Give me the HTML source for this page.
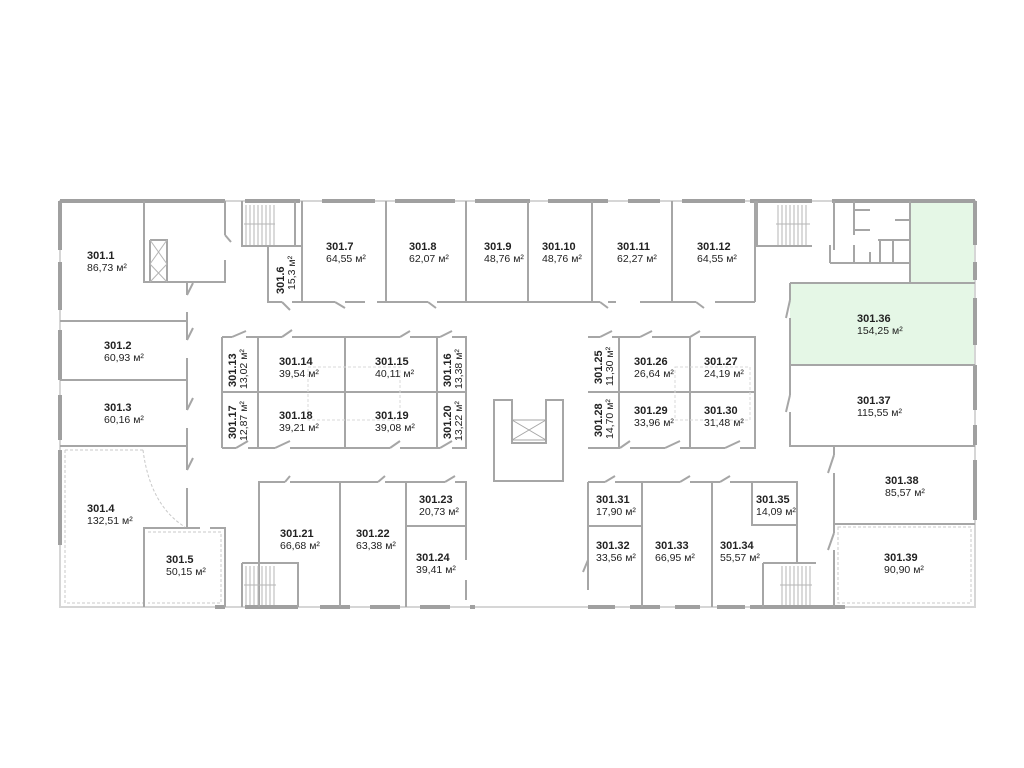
<!DOCTYPE html>
<html><head><meta charset="utf-8"><style>
html,body{margin:0;padding:0;background:#fff;width:1024px;height:768px;overflow:hidden}
svg{display:block}
text{font-family:"Liberation Sans",sans-serif;fill:#222}
.n{font-weight:bold;font-size:11px}
.a{font-size:10.5px}
</style></head><body>
<svg width="1024" height="768" viewBox="0 0 1024 768" xmlns="http://www.w3.org/2000/svg">
<!-- green room -->
<path d="M790 283 H910 V201 H975 V365 H790 Z" fill="#e5f7e6" stroke="none"/>
<g fill="none" stroke="#a8a8a8" stroke-width="2">
<!-- outer walls light -->
<path d="M60 201 H975 V607 H60 Z" stroke="#d6d6d6"/>
</g>
<!-- thick wall segments -->
<g fill="none" stroke="#a0a0a0" stroke-width="4">
<path d="M60 201 V250 M60 262 V310 M60 330 V380 M60 395 V440 M60 450 V545"/>
<path d="M60 201 H225 M245 201 H300 M322 201 H375 M395 201 H455 M475 201 H530 M548 201 H608 M628 201 H660 M682 201 H745 M750 201 H812 M832 201 H975"/>
<path d="M975 201 V245 M975 262 V280 M975 298 V345 M975 365 V410 M975 425 V445 M975 460 V520"/>
<path d="M215 607 H225 M245 607 H298 M320 607 H350 M370 607 H400 M420 607 H450 M470 607 H475"/>
<path d="M588 607 H615 M630 607 H660 M675 607 H700 M717 607 H745 M750 607 H845"/>
</g>
<g fill="none" stroke="#a6a6a6" stroke-width="2">
<!-- left column -->
<path d="M144 201 V282 H225 V260"/>
<path d="M225 201 V235"/>
<path d="M150 240 H167 V282 M150 240 V282 M167 264 V272"/>
<path d="M187 282 V295 M187 312 V340 M187 358 V410 M187 428 V470 M187 488 V528"/>
<path d="M60 321 H187 M60 380 H187 M60 446 H187"/>
<path d="M144 607 V528 H200 M210 528 H225 V607"/>
<!-- top row -->
<path d="M242 201 V246 H302 M268 246 V302 H282 M292 302 H335 M345 302 H365 M377 302 H428 M437 302 H600 M608 302 H616 M640 302 H696 M715 302 H755"/>
<path d="M295 201 V246 M302 201 V302 M386 201 V302 M466 201 V302 M528 201 V302 M592 201 V302 M672 201 V302 M755 201 V302"/>
<path d="M755 246 H812 M757 201 V246"/>
<!-- utility area -->
<path d="M834 201 V250 M854 201 V235 M854 210 H870 M854 230 H870 M895 220 H910 M878 240 H910 M870 252 V263 M880 240 V263 M893 240 V263 M910 201 V283 M830 263 H910 M830 263 V245 M854 245 V263"/>
<!-- right column -->
<path d="M790 283 H975 M790 283 V300 M790 318 V395 M790 412 V446 H975 M790 365 H975"/>
<path d="M834 446 V455 M834 473 V524 H975 M834 524 V533 M834 550 V607"/>
<!-- central left block -->
<path d="M222 337 H232 M246 337 H282 M292 337 H400 M410 337 H440 M452 337 H466 V448 H452 M440 448 H400 M390 448 H290 M275 448 H248 M236 448 H222 Z"/>
<path d="M222 337 V448 M258 337 V448 M345 337 V448 M437 337 V448 M222 392 H466"/>
<path d="M308 367 H400 V420 H308 Z" stroke="#d8d8d8" stroke-width="1" stroke-dasharray="3 2"/>
<!-- U -->
<path d="M494 400 H512 V443 H546 V400 H563 V481 H494 Z"/>
<path d="M512 420 H546 V440 H512 Z M512 420 L546 440 M546 420 L512 440" stroke-width="1"/>
<!-- right block -->
<path d="M588 337 H600 M612 337 H640 M652 337 H690 M700 337 H755 V448 H740 M725 448 H680 M665 448 H630 M620 448 H588 Z"/>
<path d="M619 337 V448 M690 337 V448 M588 392 H755"/>
<path d="M675 367 H750 V420 H675 Z" stroke="#d8d8d8" stroke-width="1" stroke-dasharray="3 2"/>
<!-- bottom left block -->
<path d="M259 607 V482 H285 M290 482 H378 M385 482 H445 M455 482 H466 V560 M466 580 V600"/>
<path d="M340 482 V607 M406 482 V607 M406 526 H466"/>
<path d="M242 563 H298 V607 M242 563 V607"/>
<!-- bottom right block -->
<path d="M588 482 H605 M615 482 H680 M690 482 H720 M730 482 H797 V563"/>
<path d="M588 482 V590 M642 482 V607 M712 482 V607 M588 526 H642 M752 482 V525 H797"/>
<path d="M763 563 H816 M763 563 V607"/>
<!-- door swings -->
<path d="M225 235 L231 242 M187 295 L193 283 M187 340 L193 328 M187 410 L193 398 M187 470 L193 458 M282 302 L290 310 M335 302 L345 308 M428 302 L436 308 M600 302 L608 308 M696 302 L704 308"/>
<path d="M232 337 L246 331 M282 337 L292 330 M400 337 L410 331 M440 337 L452 331 M236 448 L248 441 M275 448 L290 441 M390 448 L400 441 M440 448 L452 441"/>
<path d="M600 337 L612 331 M640 337 L652 331 M690 337 L700 331 M620 448 L630 441 M665 448 L680 441 M725 448 L740 441"/>
<path d="M285 482 L290 476 M378 482 L385 476 M445 482 L455 476 M605 482 L615 476 M680 482 L690 476 M720 482 L730 476 M790 300 L786 318 M790 395 L786 412 M834 455 L828 473 M834 533 L828 550 M588 560 L583 572"/>
</g>
<!-- stair treads -->
<g stroke="#b5b5b5" stroke-width="1">
<path d="M246 205 V245 M250 205 V245 M254 205 V245 M258 205 V245 M262 205 V245 M266 205 V245 M270 205 V245 M274 205 V245 M244 224 H275"/>
<path d="M778 205 V245 M782 205 V245 M786 205 V245 M790 205 V245 M794 205 V245 M798 205 V245 M802 205 V245 M806 205 V245 M776 224 H810"/>
<path d="M246 566 V605 M250 566 V605 M254 566 V605 M258 566 V605 M262 566 V605 M266 566 V605 M270 566 V605 M274 566 V605 M244 585 H276"/>
<path d="M782 566 V605 M786 566 V605 M790 566 V605 M794 566 V605 M798 566 V605 M802 566 V605 M806 566 V605 M810 566 V605 M780 585 H812"/>
<path d="M150 240 L167 264 M167 240 L150 264 M150 264 L167 282 M167 264 L150 282"/>
</g>
<!-- dashed 301.4 / 301.5 -->
<g fill="none" stroke="#c8c8c8" stroke-width="1" stroke-dasharray="3 2">
<path d="M65 450 H143 M65 450 V603 H143 M148 532 H221 V603 H148"/>
<path d="M143 450 Q150 505 185 527"/>
<path d="M838 527 H971 V603 H838 Z"/>
</g>
<!-- labels -->
<text class="n" x="87" y="259">301.1</text><text class="a" x="87" y="271">86,73 м²</text>
<text class="n" x="104" y="349">301.2</text><text class="a" x="104" y="361">60,93 м²</text>
<text class="n" x="104" y="411">301.3</text><text class="a" x="104" y="423">60,16 м²</text>
<text class="n" x="87" y="512">301.4</text><text class="a" x="87" y="524">132,51 м²</text>
<text class="n" x="166" y="563">301.5</text><text class="a" x="166" y="575">50,15 м²</text>
<text class="n" x="326" y="250">301.7</text><text class="a" x="326" y="262">64,55 м²</text>
<text class="n" x="409" y="250">301.8</text><text class="a" x="409" y="262">62,07 м²</text>
<text class="n" x="484" y="250">301.9</text><text class="a" x="484" y="262">48,76 м²</text>
<text class="n" x="542" y="250">301.10</text><text class="a" x="542" y="262">48,76 м²</text>
<text class="n" x="617" y="250">301.11</text><text class="a" x="617" y="262">62,27 м²</text>
<text class="n" x="697" y="250">301.12</text><text class="a" x="697" y="262">64,55 м²</text>
<text class="n" x="857" y="322">301.36</text><text class="a" x="857" y="334">154,25 м²</text>
<text class="n" x="857" y="404">301.37</text><text class="a" x="857" y="416">115,55 м²</text>
<text class="n" x="885" y="484">301.38</text><text class="a" x="885" y="496">85,57 м²</text>
<text class="n" x="884" y="561">301.39</text><text class="a" x="884" y="573">90,90 м²</text>
<text class="n" x="279" y="365">301.14</text><text class="a" x="279" y="377">39,54 м²</text>
<text class="n" x="375" y="365">301.15</text><text class="a" x="375" y="377">40,11 м²</text>
<text class="n" x="279" y="419">301.18</text><text class="a" x="279" y="431">39,21 м²</text>
<text class="n" x="375" y="419">301.19</text><text class="a" x="375" y="431">39,08 м²</text>
<text class="n" x="634" y="365">301.26</text><text class="a" x="634" y="377">26,64 м²</text>
<text class="n" x="704" y="365">301.27</text><text class="a" x="704" y="377">24,19 м²</text>
<text class="n" x="634" y="414">301.29</text><text class="a" x="634" y="426">33,96 м²</text>
<text class="n" x="704" y="414">301.30</text><text class="a" x="704" y="426">31,48 м²</text>
<text class="n" x="280" y="537">301.21</text><text class="a" x="280" y="549">66,68 м²</text>
<text class="n" x="356" y="537">301.22</text><text class="a" x="356" y="549">63,38 м²</text>
<text class="n" x="419" y="503">301.23</text><text class="a" x="419" y="515">20,73 м²</text>
<text class="n" x="416" y="561">301.24</text><text class="a" x="416" y="573">39,41 м²</text>
<text class="n" x="596" y="503">301.31</text><text class="a" x="596" y="515">17,90 м²</text>
<text class="n" x="596" y="549">301.32</text><text class="a" x="596" y="561">33,56 м²</text>
<text class="n" x="655" y="549">301.33</text><text class="a" x="655" y="561">66,95 м²</text>
<text class="n" x="720" y="549">301.34</text><text class="a" x="720" y="561">55,57 м²</text>
<text class="n" x="756" y="503">301.35</text><text class="a" x="756" y="515">14,09 м²</text>
<!-- vertical labels -->
<g>
<text class="n" transform="translate(284,294) rotate(-90)">301.6</text><text class="a" transform="translate(295,290) rotate(-90)">15,3 м²</text>
<text class="n" transform="translate(236,387) rotate(-90)">301.13</text><text class="a" transform="translate(247,389) rotate(-90)">13,02 м²</text>
<text class="n" transform="translate(236,439) rotate(-90)">301.17</text><text class="a" transform="translate(247,441) rotate(-90)">12,87 м²</text>
<text class="n" transform="translate(451,387) rotate(-90)">301.16</text><text class="a" transform="translate(462,389) rotate(-90)">13,38 м²</text>
<text class="n" transform="translate(451,439) rotate(-90)">301.20</text><text class="a" transform="translate(462,441) rotate(-90)">13,22 м²</text>
<text class="n" transform="translate(602,384) rotate(-90)">301.25</text><text class="a" transform="translate(613,386) rotate(-90)">11,30 м²</text>
<text class="n" transform="translate(602,437) rotate(-90)">301.28</text><text class="a" transform="translate(613,439) rotate(-90)">14,70 м²</text>
</g>
</svg>
</body></html>
